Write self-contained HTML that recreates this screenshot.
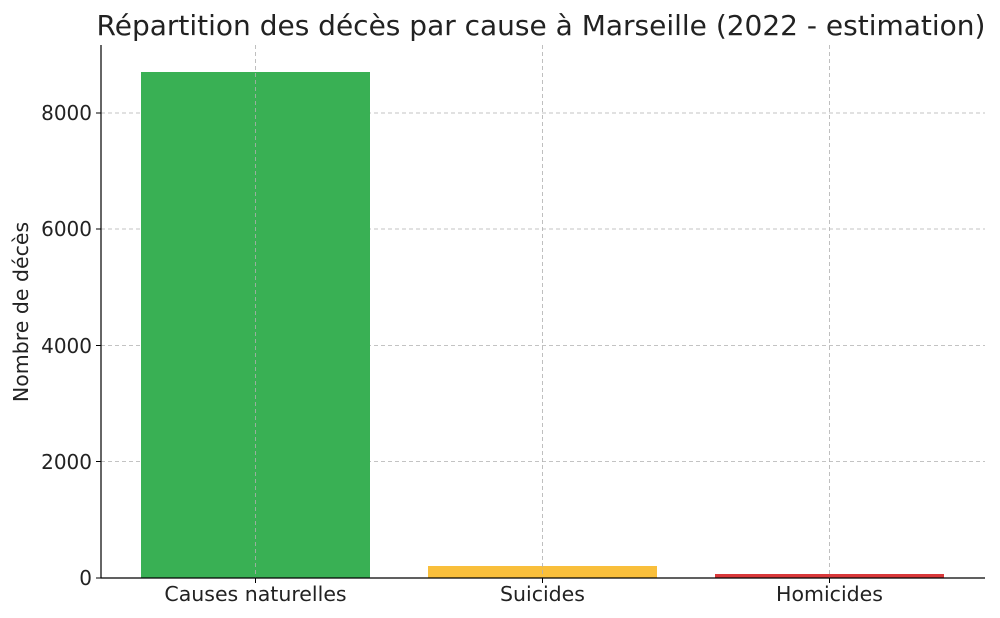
<!DOCTYPE html>
<html><head><meta charset="utf-8"><style>body{margin:0;background:#fff}svg{display:block}</style></head>
<body>
<svg width="1000" height="618" xmlns="http://www.w3.org/2000/svg" font-family="DejaVu Sans, Liberation Sans, sans-serif">
<rect width="1000" height="618" fill="#fff"/>
<g stroke="#b0b0b0" stroke-width="0.8" stroke-dasharray="4,3">
<line x1="101" y1="113" x2="985" y2="113"/>
<line x1="101" y1="229" x2="985" y2="229"/>
<line x1="101" y1="345.5" x2="985" y2="345.5"/>
<line x1="101" y1="461.5" x2="985" y2="461.5"/>
</g>
<rect x="141" y="72" width="229" height="506" fill="#39b054"/>
<rect x="428" y="566" width="229" height="12" fill="#f9bf3b"/>
<rect x="715" y="574" width="229" height="4" fill="#d9383a"/>
<g stroke="#b0b0b0" stroke-width="0.8" stroke-dasharray="4,3">
<line x1="255.5" y1="45" x2="255.5" y2="578"/>
<line x1="542.5" y1="45" x2="542.5" y2="578"/>
<line x1="829.5" y1="45" x2="829.5" y2="578"/>
</g>
<line x1="101" y1="45" x2="101" y2="578.5" stroke="#000" stroke-width="1.2"/>
<line x1="100.5" y1="578" x2="985" y2="578" stroke="#000" stroke-width="1.2"/>
<g stroke="#000" stroke-width="1">
<line x1="96" y1="578" x2="101" y2="578"/><line x1="96" y1="461.5" x2="101" y2="461.5"/>
<line x1="96" y1="345.5" x2="101" y2="345.5"/><line x1="96" y1="229" x2="101" y2="229"/>
<line x1="96" y1="113" x2="101" y2="113"/>
<line x1="255.5" y1="578" x2="255.5" y2="583"/><line x1="542.5" y1="578" x2="542.5" y2="583"/><line x1="829.5" y1="578" x2="829.5" y2="583"/>
</g>
<g font-size="20" fill="#222" text-anchor="end">
<text x="92" y="585">0</text><text x="92" y="469">2000</text><text x="92" y="353">4000</text><text x="92" y="236">6000</text><text x="92" y="120">8000</text>
</g>
<g font-size="20.5" fill="#222" text-anchor="middle">
<text x="255.5" y="601">Causes naturelles</text><text x="542.5" y="601">Suicides</text><text x="829.5" y="601">Homicides</text>
</g>
<text transform="translate(28,312) rotate(-90)" font-size="20.5" fill="#222" text-anchor="middle">Nombre de décès</text>
<text x="541" y="35" font-size="28" fill="#222" text-anchor="middle">Répartition des décès par cause à Marseille (2022 - estimation)</text>
</svg>
</body></html>
